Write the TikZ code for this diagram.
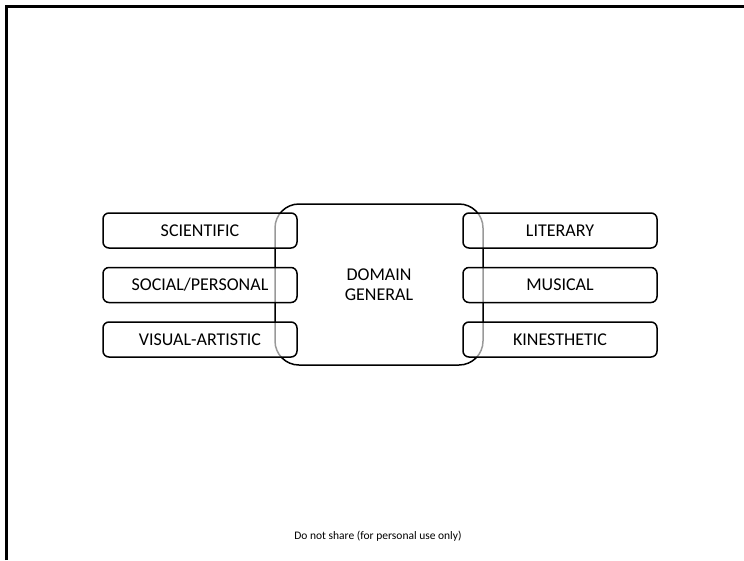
\documentclass[tikz,border=0pt]{standalone}
\usepackage{fontspec}
\setmainfont{Carlito}
\begin{document}
\begin{tikzpicture}[x=1pt, y=-1pt,
    domainbox/.style={draw, line width=1.5pt, rounded corners=24pt,
        minimum width=208pt, minimum height=161pt, align=center,
        font=\fontsize{18}{19.5}\selectfont},
    areabox/.style={draw, line width=1.5pt, rounded corners=6pt,
        fill=white, fill opacity=0.6, text opacity=1,
        minimum width=194pt, minimum height=35pt,
        font=\fontsize{18}{21}\selectfont}]
    \useasboundingbox (0,0) rectangle (744,560);

    % Slide frame
    \draw[line width=3pt] (6,560) -- (6,6) -- (744,6);

    % Central box (drawn first, side boxes lie over it)
    \node[domainbox] (dom) at (379,284.5) {DOMAIN\\GENERAL};

    % Left column of domains
    \foreach \name/\y/\label in {sci/230.5/{SCIENTIFIC}, soc/285/{SOCIAL/PERSONAL}, vis/339.5/{VISUAL-ARTISTIC}} {
        \node[areabox] (\name) at (200,\y) {\label};
    }

    % Right column of domains
    \foreach \name/\y/\label in {lit/230.5/{LITERARY}, mus/285/{MUSICAL}, kin/339.5/{KINESTHETIC}} {
        \node[areabox] (\name) at (560,\y) {\label};
    }

    % Footer
    \node[font=\fontsize{11.5}{13}\selectfont] (note) at (378,536) {Do not share (for personal use only)};
\end{tikzpicture}
\end{document}
